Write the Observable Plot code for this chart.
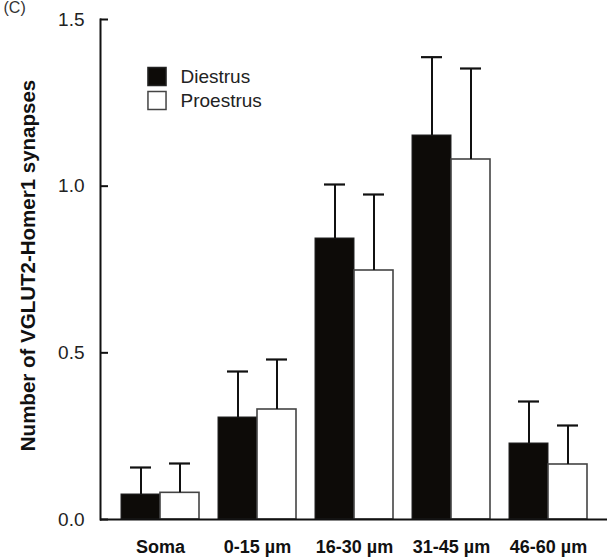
<!DOCTYPE html>
<html>
<head>
<meta charset="utf-8">
<script src="https://cdn.jsdelivr.net/npm/d3@7"></script>
<script src="https://cdn.jsdelivr.net/npm/@observablehq/plot@0.6"></script>
<style>
  html, body { margin: 0; padding: 0; background: #fff; }
  #chart { width: 613px; height: 558px; }
  svg { overflow: visible; }
</style>
</head>
<body>
<div id="chart"></div>
<script>
const categories = ["Soma", "0-15 µm", "16-30 µm", "31-45 µm", "46-60 µm"];
const diestrus = [0.075, 0.306, 0.843, 1.152, 0.228];
const diestrusErr = [0.081, 0.138, 0.162, 0.235, 0.126];
const proestrus = [0.080, 0.330, 0.747, 1.080, 0.165];
const proestrusErr = [0.088, 0.150, 0.228, 0.273, 0.117];
const yTicks = [0, 0.5, 1.0, 1.5];
const seriesNames = ["Diestrus", "Proestrus"];
const yLabel = "Number of VGLUT2-Homer1 synapses";
const panelLabel = "(C)";

const dRows = categories.map((c, i) => ({cat: c, v: diestrus[i], top: diestrus[i] + diestrusErr[i]}));
const pRows = categories.map((c, i) => ({cat: c, v: proestrus[i], top: proestrus[i] + proestrusErr[i]}));

const ink = "#111";
const chart = Plot.plot({
  width: 613,
  height: 558,
  marginLeft: 100,
  marginRight: 6,
  marginTop: 19,
  marginBottom: 39,
  style: {fontFamily: "'Liberation Sans', Arial, sans-serif", background: "#fff", color: ink},
  x: {type: "band", domain: categories, padding: 0.2},
  y: {domain: [0, 1.5]},
  marks: [
    // bars
    Plot.barY(dRows, {x: "cat", y: "v", insetRight: 39, fill: "#0d0b08", stroke: "#222", strokeWidth: 1}),
    Plot.barY(pRows, {x: "cat", y: "v", insetLeft: 39, fill: "#fff", stroke: "#444", strokeWidth: 1.6}),
    // error bars (upper only)
    Plot.ruleX(dRows, {x: "cat", y1: "v", y2: "top", dx: -19.5, stroke: ink, strokeWidth: 2}),
    Plot.ruleX(pRows, {x: "cat", y1: "v", y2: "top", dx: 19.5, stroke: ink, strokeWidth: 2}),
    Plot.tickY(dRows, {x: "cat", y: "top", insetLeft: 9, insetRight: 48, stroke: ink, strokeWidth: 2.2}),
    Plot.tickY(pRows, {x: "cat", y: "top", insetLeft: 48, insetRight: 9, stroke: ink, strokeWidth: 2.2}),
    // axes lines
    Plot.frame({anchor: "left", stroke: ink, strokeWidth: 2}),
    Plot.ruleY([0], {stroke: ink, strokeWidth: 2}),
    // y ticks (inward) and labels
    Plot.axisY({ticks: yTicks, tickSize: 8, dx: 8, tickFormat: () => "", label: null, stroke: ink, strokeWidth: 2}),
    Plot.axisY({ticks: yTicks, tickSize: 0, tickPadding: 16, tickFormat: d3.format(".1f"), label: null, fontSize: 19, fill: "#222"}),
    // x axis labels
    Plot.axisX({tickSize: 0, tickPadding: 21, label: null, fontSize: 18, fontWeight: "bold", fill: ink}),
    // y axis title
    Plot.text([yLabel], {frameAnchor: "left", dx: -72, dy: -4, rotate: -90, textAnchor: "middle", lineAnchor: "middle", fontSize: 20.5, fontWeight: "bold", fill: ink}),
    // legend
    Plot.dot([seriesNames[0]], {frameAnchor: "top-left", dx: 56.5, dy: 57, symbol: "square", r: 10.2, fill: "#0d0b08", stroke: "#222"}),
    Plot.dot([seriesNames[1]], {frameAnchor: "top-left", dx: 56.5, dy: 81, symbol: "square", r: 10.2, fill: "#fff", stroke: "#444", strokeWidth: 1.5}),
    Plot.text([seriesNames[0]], {frameAnchor: "top-left", dx: 80, dy: 57, textAnchor: "start", lineAnchor: "middle", fontSize: 19, fill: "#222"}),
    Plot.text([seriesNames[1]], {frameAnchor: "top-left", dx: 80, dy: 81, textAnchor: "start", lineAnchor: "middle", fontSize: 19, fill: "#222"}),
    // panel label
    Plot.text([panelLabel], {frameAnchor: "top-left", dx: -97, dy: -18, textAnchor: "start", lineAnchor: "top", fontSize: 16, fill: "#333"})
  ]
});
document.getElementById("chart").appendChild(chart);
</script>
</body>
</html>
